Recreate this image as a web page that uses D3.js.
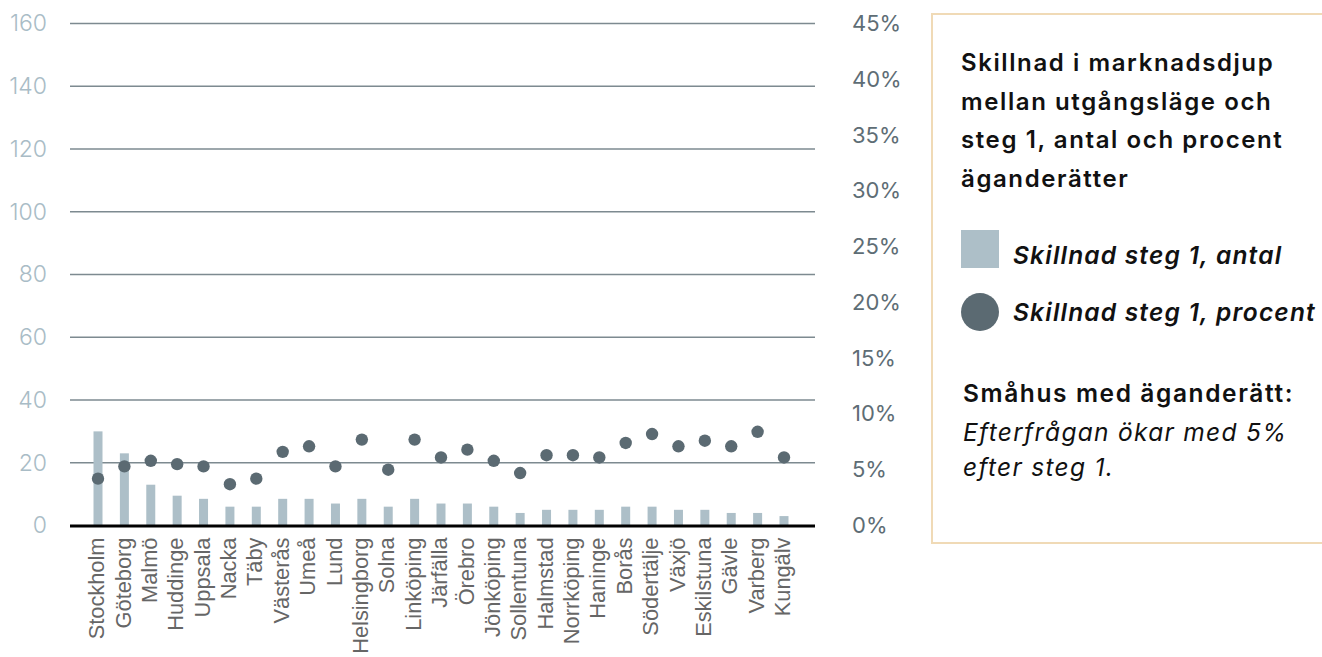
<!DOCTYPE html>
<html>
<head>
<meta charset="utf-8">
<script src="https://cdn.jsdelivr.net/npm/d3@7/dist/d3.min.js"></script>
<style>
  html, body { margin: 0; padding: 0; background: #ffffff; }
  svg { display: block; }
</style>
</head>
<body>
<svg id="chart" width="1322" height="657"></svg>
<script>
// Kommuner (x-axis categories)
const categories = ["Stockholm","Göteborg","Malmö","Huddinge","Uppsala","Nacka","Täby","Västerås","Umeå","Lund",
  "Helsingborg","Solna","Linköping","Järfälla","Örebro","Jönköping","Sollentuna","Halmstad","Norrköping","Haninge",
  "Borås","Södertälje","Växjö","Eskilstuna","Gävle","Varberg","Kungälv"];

// Skillnad steg 1, antal (left axis)
const antal = [30,23,13,9.5,8.5,6,6,8.5,8.5,7,8.5,6,8.5,7,7,6,4,5,5,5,6,6,5,5,4,4,3];

// Skillnad steg 1, procent (right axis)
const procent = [4.2,5.3,5.8,5.5,5.3,3.7,4.2,6.6,7.1,5.3,7.7,5.0,7.7,6.1,6.8,5.8,4.7,6.3,6.3,6.1,7.4,8.2,7.1,7.6,7.1,8.4,6.1]
  .map(v => v / 100);

// Axis ticks
const leftTicks = [0,20,40,60,80,100,120,140,160];
const rightTicks = [0,0.05,0.10,0.15,0.20,0.25,0.30,0.35,0.40,0.45];

// Legend / note text
const titleLines = ["Skillnad i marknadsdjup","mellan utgångsläge och","steg 1, antal och procent","äganderätter"];
const legendLabels = ["Skillnad steg 1, antal","Skillnad steg 1, procent"];
const noteHead = "Småhus med äganderätt:";
const noteLines = ["Efterfrågan ökar med 5%","efter steg 1."];

const svg = d3.select("#chart");
const plotLeft = 70, plotRight = 815, plotTop = 23.5, plotBottom = 525.5;

const x = d3.scalePoint().domain(categories).range([98, 784]);
const yL = d3.scaleLinear().domain([0,160]).range([plotBottom, plotTop]);
const yR = d3.scaleLinear().domain([0,0.45]).range([plotBottom, plotTop]);

const COL_BAR = "#adbfc8", COL_DOT = "#5b6a72";
const FONT_UI = "Inter, 'Open Sans', sans-serif";

// Gridlines
svg.append("g").selectAll("line").data(leftTicks.filter(d => d > 0)).join("line")
  .attr("x1", plotLeft).attr("x2", plotRight)
  .attr("y1", d => yL(d)).attr("y2", d => yL(d))
  .attr("stroke", "#7d8a90").attr("stroke-width", 1.3);

// Left axis labels
const leftAxis = d3.axisLeft(yL).tickValues(leftTicks).tickSize(0).tickPadding(0).tickFormat(d3.format("d"));
const gl = svg.append("g").attr("transform", `translate(47,0)`).call(leftAxis);
gl.select(".domain").remove();
gl.selectAll("text").attr("font-family", FONT_UI).attr("font-weight", 300)
  .attr("font-size", 23).attr("fill", "#a9bcc6");

// Right axis labels
const rightAxis = d3.axisRight(yR).tickValues(rightTicks).tickSize(0).tickPadding(0).tickFormat(d3.format(".0%"));
const gr = svg.append("g").attr("transform", `translate(852,0)`).call(rightAxis);
gr.select(".domain").remove();
gr.selectAll("text").attr("font-family", FONT_UI).attr("font-weight", 400)
  .attr("font-size", 22).attr("fill", "#5e6d75");

// Bars
const barW = 9;
svg.append("g").selectAll("rect").data(categories).join("rect")
  .attr("x", d => x(d) - barW/2)
  .attr("width", barW)
  .attr("y", (d,i) => yL(antal[i]))
  .attr("height", (d,i) => yL(0) - yL(antal[i]))
  .attr("fill", COL_BAR);

// Baseline
svg.append("line").attr("x1", plotLeft).attr("x2", plotRight)
  .attr("y1", yL(0) + 0.5).attr("y2", yL(0) + 0.5)
  .attr("stroke", "#000").attr("stroke-width", 3);

// Dots
svg.append("g").selectAll("circle").data(categories).join("circle")
  .attr("cx", d => x(d))
  .attr("cy", (d,i) => yR(procent[i]))
  .attr("r", 6.2)
  .attr("fill", COL_DOT);

// Category labels
const xAxis = d3.axisBottom(x).tickSize(0).tickPadding(0);
const gx = svg.append("g").attr("transform", `translate(0,${plotBottom})`).call(xAxis);
gx.select(".domain").remove();
gx.selectAll("text")
  .attr("transform", "rotate(-90)")
  .attr("x", -12).attr("y", -2).attr("dy", "0.35em")
  .attr("text-anchor", "end")
  .attr("font-family", "'Liberation Sans', Arial, sans-serif")
  .attr("font-size", 21.8).attr("fill", "#666666");

// Legend panel
const panel = svg.append("g");
panel.append("rect").attr("x", 932).attr("y", 14).attr("width", 420).attr("height", 529)
  .attr("fill", "#ffffff").attr("stroke", "#f0dab6").attr("stroke-width", 2);

panel.append("text").attr("font-family", FONT_UI).attr("font-weight", 600).attr("font-size", 24)
  .attr("letter-spacing", 1.6).attr("fill", "#111")
  .selectAll("tspan").data(titleLines).join("tspan")
  .attr("x", 961).attr("y", (d,i) => 71 + i*38.5).text(d => d);

panel.append("rect").attr("x", 961).attr("y", 230).attr("width", 38).attr("height", 38).attr("fill", COL_BAR);
panel.append("circle").attr("cx", 980).attr("cy", 312).attr("r", 19).attr("fill", COL_DOT);
panel.selectAll("text.leg").data(legendLabels).join("text").attr("class","leg")
  .attr("x", 1013).attr("y", (d,i) => 264 + i*57)
  .attr("font-family", FONT_UI).attr("font-weight", 600).attr("font-style", "italic")
  .attr("font-size", 24.5).attr("letter-spacing", 1.2).attr("fill", "#111").text(d => d);

panel.append("text").attr("x", 963).attr("y", 402)
  .attr("font-family", FONT_UI).attr("font-weight", 600).attr("font-size", 24.5)
  .attr("letter-spacing", 1.6).attr("fill", "#111").text(noteHead);
panel.append("text").attr("font-family", FONT_UI).attr("font-style", "italic").attr("font-size", 24.5)
  .attr("letter-spacing", 1.3).attr("fill", "#111")
  .selectAll("tspan").data(noteLines).join("tspan")
  .attr("x", 963).attr("y", (d,i) => 441 + i*35).text(d => d);
</script>
</body>
</html>
